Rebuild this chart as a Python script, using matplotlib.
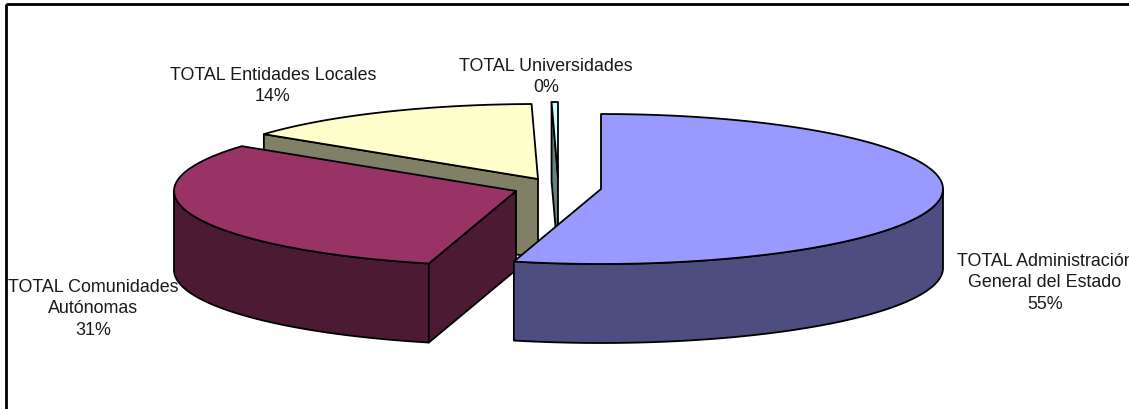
import numpy as np
import matplotlib
matplotlib.use('Agg')
import matplotlib.pyplot as plt
from matplotlib.patches import Polygon, Rectangle

plt.rcParams['font.family'] = ['Liberation Sans', 'DejaVu Sans']

# Shares
categorias = ['Administración', 'Comunidades', 'Entidades', 'Universidades']
valores = [54.1, 31.1, 14.5, 0.3]
etiquetas = ['TOTAL Administración\nGeneral del Estado\n55%',
             'TOTAL Comunidades\nAutónomas\n31%',
             'TOTAL Entidades Locales\n14%',
             'TOTAL Universidades\n0%']

colores_top = ['#9999FF', '#993366', '#FFFFCC', '#CCFFFF']
colores_lado = ['#4D4D80', '#4D1A33', '#808066', '#668080']

# Layout, in pixels of the 1129x410 picture
CX, CY = 601, 190
A, B = 342, 75
DEPTH = 79
offsets = [(0, 0), (-85, 2), (-63, -10), (-43, -12)]
pos_etiquetas = [(1045, 283), (93, 309), (273, 86), (546, 77)]
LW = 1.3


def rim(t, cx, cy, dy=0):
    # t in radians, clockwise from the top of the ellipse
    return np.column_stack([cx + A * np.sin(t), cy - B * np.cos(t) + dy])


def poly(ax, pts, color, z):
    ax.add_patch(Polygon(pts, closed=True, facecolor=color, edgecolor='black',
                         linewidth=LW, joinstyle='round', zorder=z))


def draw_slice(ax, t0, t1, off, top, lado, z):
    cx, cy = CX + off[0], CY + off[1]
    apex = np.array([[cx, cy]])
    t = np.linspace(t0, t1, 120)

    # outer wall, only the part facing the viewer (between 90 and 270 degrees)
    lo, hi = max(t0, np.pi / 2), min(t1, 3 * np.pi / 2)
    if lo < hi:
        tw = np.linspace(lo, hi, 120)
        poly(ax, np.vstack([rim(tw, cx, cy), rim(tw, cx, cy, DEPTH)[::-1]]), lado, z)

    # radial wall facing the viewer
    if t0 > np.pi:
        e = rim(np.array([t0]), cx, cy)
        poly(ax, np.vstack([e, apex, apex + [0, DEPTH], e + [0, DEPTH]]), lado, z)

    poly(ax, np.vstack([apex, rim(t, cx, cy)]), top, z + 0.5)


fig = plt.figure(figsize=(11.29, 4.10), dpi=100)
ax = fig.add_axes([0, 0, 1, 1])
ax.set_xlim(0, 1129)
ax.set_ylim(410, 0)
ax.axis('off')

# chart border, the right and bottom sides fall outside the picture
ax.add_patch(Rectangle((6, 5), 1140, 420, fill=False, edgecolor='black', linewidth=2, zorder=0))

angulos = np.cumsum([0] + valores) / sum(valores) * 2 * np.pi
orden = [2, 3, 1, 0]  # back slices first
for n, i in enumerate(orden):
    draw_slice(ax, angulos[i], angulos[i + 1], offsets[i], colores_top[i], colores_lado[i], 2 + n)

for txt, (x, y) in zip(etiquetas, pos_etiquetas):
    ax.text(x, y, txt, ha='center', va='center', fontsize=12.9, color='#1a1a1a',
            linespacing=1.38, zorder=10)

fig.savefig('out.png', dpi=100)
